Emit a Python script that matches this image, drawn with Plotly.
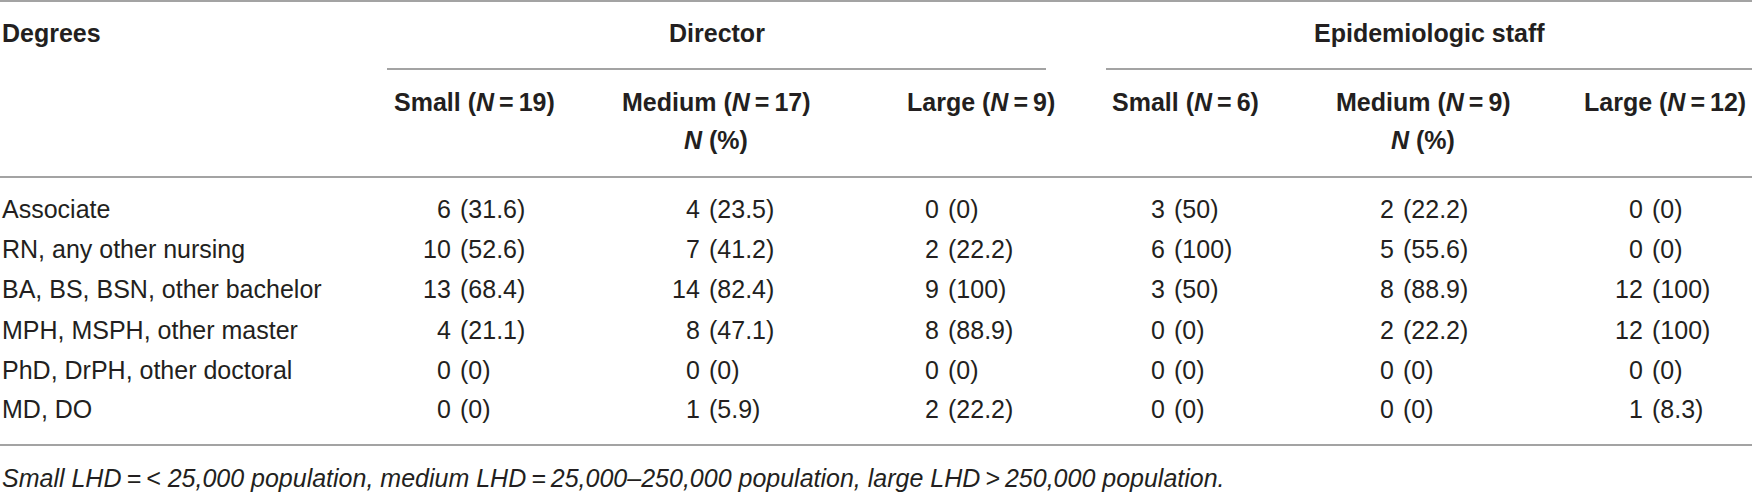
import plotly.graph_objects as go

# table content
degrees = ["Associate", "RN, any other nursing", "BA, BS, BSN, other bachelor",
           "MPH, MSPH, other master", "PhD, DrPH, other doctoral", "MD, DO"]
groups = ["Director", "Epidemiologic staff"]
subheads = ["Small (<i>N</i>\u2009=\u200919)", "Medium (<i>N</i>\u2009=\u200917)", "Large (<i>N</i>\u2009=\u20099)",
            "Small (<i>N</i>\u2009=\u20096)", "Medium (<i>N</i>\u2009=\u20099)", "Large (<i>N</i>\u2009=\u200912)"]

dir_small_n = [6, 10, 13, 4, 0, 0]
dir_small_pct = ["31.6", "52.6", "68.4", "21.1", "0", "0"]
dir_med_n = [4, 7, 14, 8, 0, 1]
dir_med_pct = ["23.5", "41.2", "82.4", "47.1", "0", "5.9"]
dir_large_n = [0, 2, 9, 8, 0, 2]
dir_large_pct = ["0", "22.2", "100", "88.9", "0", "22.2"]
epi_small_n = [3, 6, 3, 0, 0, 0]
epi_small_pct = ["50", "100", "50", "0", "0", "0"]
epi_med_n = [2, 5, 8, 2, 0, 0]
epi_med_pct = ["22.2", "55.6", "88.9", "22.2", "0", "0"]
epi_large_n = [0, 0, 12, 12, 0, 1]
epi_large_pct = ["0", "0", "100", "100", "0", "8.3"]

footnote = ("Small LHD\u2009=\u2009< 25,000 population, medium LHD\u2009=\u200925,000\u2013250,000 population, "
            "large LHD\u2009>\u2009250,000 population.")

counts = [dir_small_n, dir_med_n, dir_large_n, epi_small_n, epi_med_n, epi_large_n]
pcts = [dir_small_pct, dir_med_pct, dir_large_pct, epi_small_pct, epi_med_pct, epi_large_pct]

# layout in pixel coordinates
W, H = 1752, 492
FONT = "Liberation Sans, Arial, Helvetica, sans-serif"
INK = "#231f20"
RULE = "#a3a3a3"
col_num_right = [453, 702, 941, 1167, 1396, 1645]   # right edge of the count
sub_centers = [474, 716, 981, 1185, 1423, 1665]
group_spans = [(387, 1046), (1106, 1752)]
row_y = [209, 249, 289, 330, 370, 409]

fig = go.Figure()
ann = []

def txt(x, y, s, anchor="left", bold=False, italic=False, size=25):
    if bold:
        s = "<b>" + s + "</b>"
    if italic:
        s = "<i>" + s + "</i>"
    ann.append(dict(x=x, y=y, xref="x", yref="y", text=s, showarrow=False,
                    xanchor=anchor, yanchor="middle",
                    font=dict(family=FONT, size=size, color=INK)))

# header
txt(0, 33, "Degrees", bold=True)
for g, (a, b) in zip(groups, group_spans):
    txt((a + b) / 2, 33, g, anchor="center", bold=True)
for s, cx in zip(subheads, sub_centers):
    txt(cx, 102, s, anchor="center", bold=True)
txt(sub_centers[1], 140, "<i>N</i> (%)", anchor="center", bold=True)
txt(sub_centers[4], 140, "<i>N</i> (%)", anchor="center", bold=True)

# body: count right-aligned, percentage follows
for i, d in enumerate(degrees):
    txt(0, row_y[i], d)
    for c in range(6):
        txt(col_num_right[c], row_y[i], str(counts[c][i]), anchor="right")
        txt(col_num_right[c] + 5, row_y[i], "(" + pcts[c][i] + ")", anchor="left")

txt(0, 478, footnote, italic=True)

# rules
shapes = [dict(type="line", xref="x", yref="y", x0=0, x1=W, y0=1, y1=1, line=dict(color=RULE, width=2))]
for a, b in group_spans:
    shapes.append(dict(type="line", xref="x", yref="y", x0=a, x1=b, y0=69, y1=69, line=dict(color=RULE, width=2)))
for yy in [177, 445]:
    shapes.append(dict(type="line", xref="x", yref="y", x0=0, x1=W, y0=yy, y1=yy, line=dict(color=RULE, width=2)))

fig.update_layout(
    width=W, height=H,
    margin=dict(l=0, r=0, t=0, b=0),
    paper_bgcolor="white", plot_bgcolor="white",
    annotations=ann, shapes=shapes,
    showlegend=False,
)
fig.update_xaxes(range=[0, W], visible=False, fixedrange=True)
fig.update_yaxes(range=[H, 0], visible=False, fixedrange=True)

# drop the browser's default page margin so the figure fills the window
fig.write_html("out.html", config={"displayModeBar": False},
               post_script="document.body.style.margin='0';")
